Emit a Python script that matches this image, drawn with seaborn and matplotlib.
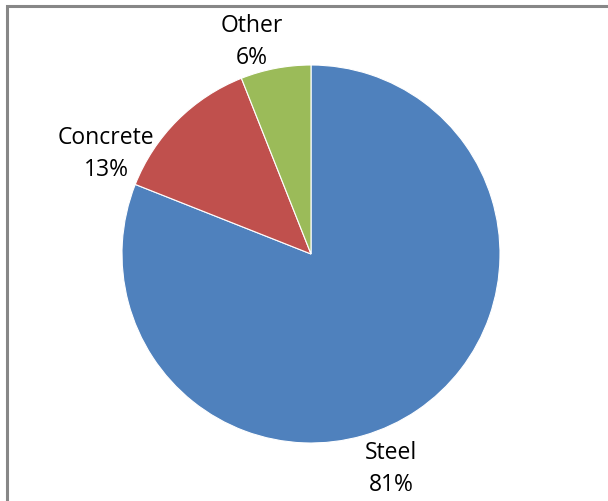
import matplotlib
matplotlib.use("Agg")
import matplotlib.pyplot as plt
import seaborn as sns
import numpy as np
from matplotlib.patches import Rectangle

categories = ["Steel", "Concrete", "Other"]
values = [81, 13, 6]
colors = ["#4F81BD", "#C0504D", "#9BBB59"]

sns.set_theme(style="white")
plt.rcParams['font.family'] = ['Open Sans', 'DejaVu Sans']

fig = plt.figure(figsize=(6.08, 5.01), dpi=100)
cx, cy, r = 311, 254, 189
W, H = 608, 501
ax = fig.add_axes([(cx - r) / W, (H - cy - r) / H, 2 * r / W, 2 * r / H])
wedges, texts = ax.pie(values, colors=colors, startangle=90, counterclock=False,
                       radius=1.0, center=(0, 0),
                       wedgeprops=dict(edgecolor="white", linewidth=0.8))
ax.set_xlim(-1, 1)
ax.set_ylim(-1, 1)
ax.set_aspect("equal")
ax.axis("off")

# label placement (angle deg, distance in radii)
label_pos = [(-69.6, 1.213), (154, 1.207), (105.6, 1.164)]
for cat, v, (ang, d) in zip(categories, values, label_pos):
    a = np.deg2rad(ang)
    ax.text(d * np.cos(a), d * np.sin(a), f"{cat}\n{v}%", ha="center", va="center",
            fontsize=16.5, color="black", linespacing=1.45, clip_on=False)

fig.patches.append(Rectangle((7 / W, -1), 2.0, 2 - 6 / H, transform=fig.transFigure,
                             fill=False, edgecolor="#878787", linewidth=2.2, figure=fig))
fig.savefig("out.png", dpi=100, facecolor="white")
